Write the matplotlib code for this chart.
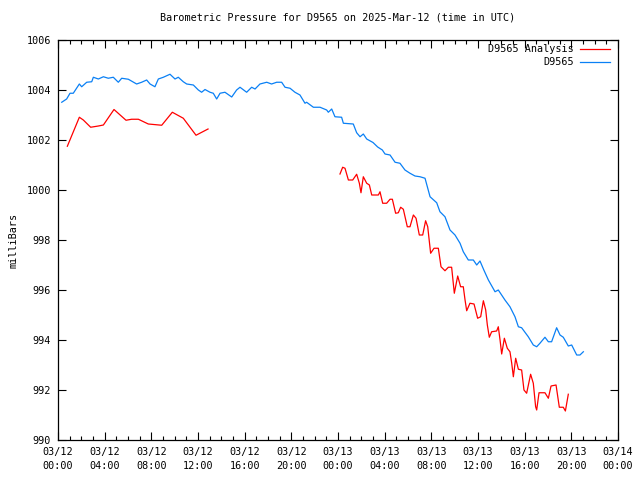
import matplotlib.pyplot as plt
import numpy as np

# hours since 03/12 00:00 UTC
blue_t = [0.32, 0.74, 1.03, 1.31, 1.83, 2.03, 2.46, 2.89, 3.03, 3.46, 3.89, 4.31, 4.74, 5.17, 5.46,
          6.03, 6.74, 7.17, 7.6, 7.89, 8.31, 8.6, 9.03, 9.6, 10.03, 10.31, 10.74, 11.03, 11.6, 12.03,
          12.31, 12.6, 13.03, 13.31, 13.6, 13.89, 14.31, 14.89, 15.31, 15.6, 16.17, 16.6, 16.89, 17.31,
          17.89, 18.31, 18.74, 19.17, 19.46, 19.89, 20.31, 20.74, 21.17, 21.31, 21.89, 22.46, 23.03,
          23.17, 23.46, 23.74, 24.31, 24.46, 25.31, 25.6, 25.89, 26.17, 26.46, 27.0, 27.4, 27.8, 28.03,
          28.46, 28.89, 29.31, 29.74, 30.17, 30.6, 31.03, 31.46, 31.89, 32.46, 32.74, 33.17, 33.6, 34.03,
          34.46, 34.74, 35.17, 35.6, 35.89, 36.17, 36.5, 36.89, 37.46, 37.74, 38.31, 38.74, 39.17, 39.46,
          39.74, 40.31, 40.74, 41.03, 41.31, 41.74, 42.03, 42.31, 42.74, 43.03, 43.31, 43.74, 44.03,
          44.46, 44.74, 45.03]
blue_p = [1003.51, 1003.64, 1003.87, 1003.87, 1004.24, 1004.13, 1004.31, 1004.33, 1004.51, 1004.44,
          1004.53, 1004.47, 1004.51, 1004.31, 1004.47, 1004.43, 1004.24, 1004.31, 1004.40, 1004.24,
          1004.13, 1004.44, 1004.51, 1004.63, 1004.44, 1004.51, 1004.33, 1004.24, 1004.20, 1004.00,
          1003.91, 1004.02, 1003.91, 1003.87, 1003.64, 1003.87, 1003.91, 1003.72, 1004.00, 1004.11,
          1003.91, 1004.11, 1004.04, 1004.24, 1004.31, 1004.24, 1004.31, 1004.31, 1004.11, 1004.07,
          1003.91, 1003.80, 1003.47, 1003.51, 1003.31, 1003.31, 1003.20, 1003.11, 1003.24, 1002.93,
          1002.91, 1002.67, 1002.64, 1002.29, 1002.13, 1002.24, 1002.04, 1001.90, 1001.72, 1001.60,
          1001.44, 1001.40, 1001.11, 1001.07, 1000.80, 1000.67, 1000.56, 1000.53, 1000.47, 999.73,
          999.49, 999.13, 998.93, 998.40, 998.20, 997.87, 997.53, 997.20, 997.20, 997.00, 997.16,
          996.80, 996.40, 995.93, 996.00, 995.60, 995.33, 994.93, 994.53, 994.49, 994.13, 993.80,
          993.73, 993.87, 994.11, 993.93, 993.93, 994.49, 994.20, 994.11, 993.76, 993.80, 993.40,
          993.40, 993.53]

# analysis series, NaN marks the gap
red_t = [0.8, 1.83, 2.17, 2.8, 3.46, 3.89, 4.8, 5.83, 6.31, 6.89, 7.74, 8.89, 9.8, 10.74, 11.83, 12.86,
         18.0,
         24.17, 24.4, 24.6, 24.89, 25.26, 25.6, 25.83, 25.97, 26.17, 26.46, 26.69, 26.89, 27.46, 27.6,
         27.83, 28.17, 28.46, 28.66, 28.94, 29.17, 29.37, 29.6, 29.94, 30.17, 30.46, 30.69, 30.97,
         31.26, 31.51, 31.69, 31.94, 32.23, 32.6, 32.83, 33.17, 33.46, 33.74, 33.97, 34.26, 34.51,
         34.74, 34.89, 35.03, 35.31, 35.66, 35.97, 36.23, 36.46, 36.66, 36.8, 36.97, 37.17, 37.6,
         37.74, 37.89, 38.03, 38.26, 38.51, 38.74, 38.89, 39.03, 39.23, 39.46, 39.74, 39.94, 40.17,
         40.51, 40.74, 40.94, 41.03, 41.23, 41.74, 42.03, 42.26, 42.69, 42.97, 43.31, 43.49, 43.74]
red_p = [1001.75, 1002.91, 1002.80, 1002.51, 1002.56, 1002.60, 1003.22, 1002.79, 1002.83, 1002.83,
         1002.64, 1002.59, 1003.11, 1002.87, 1002.19, 1002.44,
         np.nan,
         1000.64, 1000.91, 1000.87, 1000.40, 1000.40, 1000.63, 1000.27, 999.89, 1000.53, 1000.27,
         1000.20, 999.80, 999.80, 999.93, 999.47, 999.47, 999.63, 999.63, 999.07, 999.09, 999.31,
         999.23, 998.53, 998.53, 999.00, 998.87, 998.20, 998.20, 998.77, 998.53, 997.47, 997.67,
         997.67, 996.93, 996.77, 996.91, 996.91, 995.87, 996.56, 996.13, 996.13, 995.60, 995.17,
         995.47, 995.44, 994.87, 994.93, 995.57, 995.20, 994.60, 994.11, 994.33, 994.36, 994.53,
         994.00, 993.44, 994.07, 993.67, 993.53, 993.07, 992.53, 993.27, 992.83, 992.80, 992.00,
         991.87, 992.63, 992.27, 991.33, 991.20, 991.89, 991.89, 991.67, 992.16, 992.20, 991.31,
         991.31, 991.16, 991.83]

xtick_pos = list(range(0, 49, 4))
xtick_labels = ['03/12\n00:00', '03/12\n04:00', '03/12\n08:00', '03/12\n12:00', '03/12\n16:00',
                '03/12\n20:00', '03/13\n00:00', '03/13\n04:00', '03/13\n08:00', '03/13\n12:00',
                '03/13\n16:00', '03/13\n20:00', '03/14\n00:00']
yticks = list(range(990, 1007, 2))

plt.rcParams['font.family'] = 'DejaVu Sans Mono'
plt.rcParams['font.size'] = 7.3

fig = plt.figure(figsize=(6.4, 4.8), dpi=100)
ax = fig.add_axes([58 / 640, 40 / 480, 560 / 640, 400 / 480])

ax.plot(red_t, red_p, color='#ff0000', lw=0.9, label='D9565 Analysis')
ax.plot(blue_t, blue_p, color='#0a80f5', lw=0.9, label='D9565')

ax.set_xlim(0, 48)
ax.set_ylim(990, 1006)
ax.set_xticks(xtick_pos)
ax.set_xticklabels(xtick_labels, linespacing=1.5)
ax.set_xticks(np.arange(0, 49, 1), minor=True)
ax.set_yticks(yticks)
ax.tick_params(which='both', direction='in', top=True, right=True, width=0.8, pad=5)
ax.tick_params(which='major', length=6)
ax.tick_params(which='minor', length=3)
ax.tick_params(axis='y', which='minor', left=False, right=False)
for s in ax.spines.values():
    s.set_linewidth(0.9)

ax.set_ylabel('milliBars', labelpad=6)
ax.set_title('Barometric Pressure for D9565 on 2025-Mar-12 (time in UTC)', fontsize=7.3, pad=14)
ax.legend(loc='upper right', bbox_to_anchor=(0.993, 1.0), frameon=False, markerfirst=False,
          handlelength=3.0, borderaxespad=0.3, borderpad=0.1, labelspacing=0.3, handletextpad=0.6)

fig.savefig('out.png', dpi=100)
